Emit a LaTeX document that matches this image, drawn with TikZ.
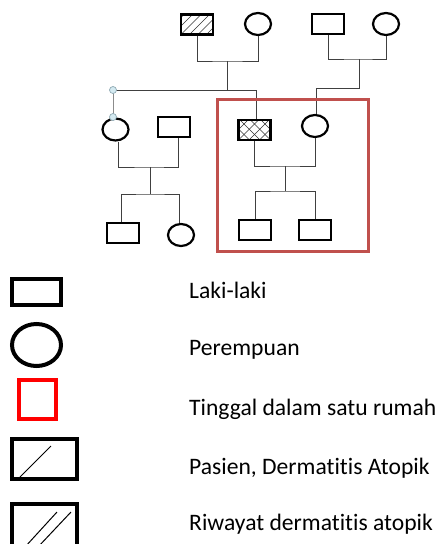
\documentclass[tikz,border=0pt]{standalone}
\usepackage{fontspec}
\setmainfont{Carlito}[RawFeature={-liga;-clig;-calt;-dlig}]
\usetikzlibrary{shapes.geometric}
\definecolor{boxred}{HTML}{C0504D}
\definecolor{handlefill}{HTML}{D4EAF1}
\definecolor{handledraw}{HTML}{8FA9B3}
\begin{document}
\begin{tikzpicture}[x=1pt,y=-1pt,
  male/.style={draw, line width=2.2pt, minimum width=32pt, minimum height=20pt, inner sep=0pt},
  female/.style={draw, ellipse, line width=2.2pt, minimum width=26pt, minimum height=22pt, inner sep=0pt},
  conn/.style={draw=black!75, line width=0.9pt},
  hatchone/.style={path picture={\foreach \i in {-2,...,4}{\draw[line width=0.6pt, black!80] ([xshift=\i*8.5pt]path picture bounding box.south west) -- ++(24pt,24pt);}}},
  hatchcross/.style={path picture={\foreach \i in {-2,...,4}{\draw[line width=0.6pt, black!80] ([xshift=\i*10.5pt]path picture bounding box.south west) -- ++(24pt,24pt);
      \draw[line width=0.6pt, black!80] ([xshift=-\i*10.5pt]path picture bounding box.south east) -- ++(-24pt,24pt);}}},
  handle/.style={circle, draw=handledraw, fill=handlefill, line width=0.7pt, minimum size=7pt, inner sep=0pt},
  legmale/.style={draw, line width=4pt, inner sep=0pt},
  legtext/.style={anchor=base west, inner sep=0pt, font=\fontsize{23.6}{28}\selectfont}
]
\fill[white] (0,0) rectangle (441,544);
\useasboundingbox (0,0) rectangle (441,544);

% generation I
\node[male, hatchone] (gp1) at (197,24.5) {};
\node[female] (gp2) at (258,24) {};
\node[male] (gp3) at (328,24) {};
\node[female] (gp4) at (386,24) {};

% generation II
\node[female] (aunt) at (115.5,129.5) {};
\node[male] (uncle) at (174,127) {};
\node[male, hatchcross] (father) at (254.5,130) {};
\node[female] (mother) at (315,126) {};

% generation III
\node[male] (c1) at (123,233) {};
\node[female] (c2) at (181,235) {};
\node[male] (c3) at (255,230) {};
\node[male] (c4) at (315,230) {};

% junction points
\coordinate (j1) at (227,61);
\coordinate (h1) at (227,90);
\coordinate (hL) at (113,90);
\coordinate (hT) at (113,117);
\coordinate (j2) at (359,59);
\coordinate (j2b) at (359,88);
\coordinate (j3) at (150,167);
\coordinate (j3b) at (150,194);
\coordinate (j4) at (285,166);
\coordinate (j4b) at (285,191);

% connectors
\draw[conn] (gp1.south) |- (j1) -| (gp2.south);
\draw[conn] (j1) -- (h1);
\draw[conn] (hL) -| ([xshift=2pt]father.north);
\draw[conn] (gp3.south) |- (j2) -| (gp4.south);
\draw[conn] (j2) -- (j2b) -| ([xshift=1pt]mother.north);
\draw[conn] ([xshift=3pt]aunt.south) |- (j3) -| ([xshift=4pt]uncle.south);
\draw[conn] (j3) -- (j3b);
\draw[conn] ([xshift=-2pt]c1.north) |- (j3b) -| ([xshift=-2pt]c2.north);
\draw[conn] (father.south) |- (j4) -| (mother.south);
\draw[conn] (j4) -- (j4b);
\draw[conn] (c3.north) |- (j4b) -| (c4.north);

% selection handles
\draw[draw=black!45, line width=1pt] (hL) -- (hT);
\node[handle] (hd1) at (hL) {};
\node[handle] (hd2) at (hT) {};

% household box
\draw[draw=boxred, line width=3pt] (217,99) rectangle (368,251);

% legend
\node[legmale, minimum width=49pt, minimum height=26pt] (lmale) at (36.5,292) {};
\node[draw, ellipse, line width=4pt, minimum width=49pt, minimum height=42pt, inner sep=0pt] (lfem) at (36.5,345) {};
\node[draw=red, line width=3.5pt, minimum width=37pt, minimum height=39pt, inner sep=0pt] (lhouse) at (37.5,399.5) {};
\node[legmale, minimum width=65pt, minimum height=40pt] (lpat) at (44.5,459) {};
\draw[line width=1pt] (20,477) -- (51,446);
\node[legmale, minimum width=65pt, minimum height=44pt] (lhist) at (44.5,526) {};
\draw[line width=1pt] (25,547) -- (57,512);
\draw[line width=1pt] (38,547) -- (71,512);

\node[legtext] (t1) at (189,298.3) {Laki-laki};
\node[legtext] (t2) at (189,355) {Perempuan};
\node[legtext] (t3) at (189,415) {Tinggal dalam satu rumah};
\node[legtext] (t4) at (189,474) {Pasien, Dermatitis Atopik};
\node[legtext] (t5) at (189,530) {Riwayat dermatitis atopik};
\end{tikzpicture}
\end{document}
